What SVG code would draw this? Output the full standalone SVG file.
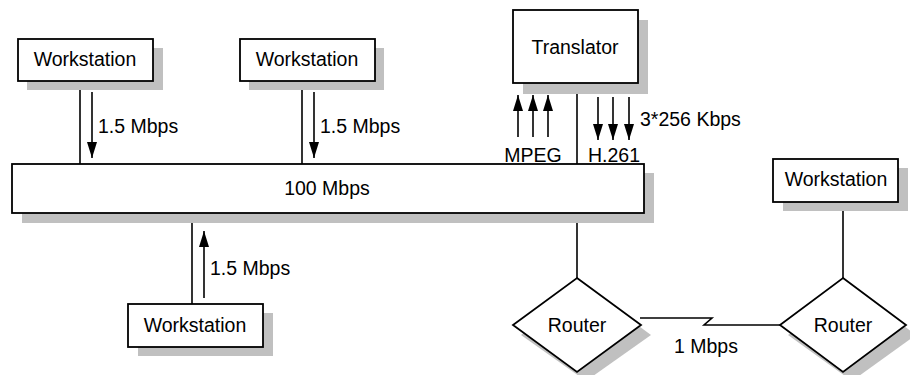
<svg xmlns="http://www.w3.org/2000/svg" width="910" height="375" viewBox="0 0 910 375">
<defs>
<style>
.box{fill:#fff;stroke:#000;stroke-width:1.8}
.sh{fill:#c0c0c0;stroke:none}
.ln{stroke:#000;stroke-width:1.6;fill:none}
.ar{stroke:#000;stroke-width:1.6;fill:none;marker-end:url(#ah)}
text{font-family:"Liberation Sans",Arial,sans-serif;font-size:19.5px;fill:#000}
.c{text-anchor:middle}
</style>
<marker id="ah" viewBox="0 0 16 10" refX="16" refY="5" markerWidth="16" markerHeight="10" markerUnits="userSpaceOnUse" orient="auto">
<path d="M0,0 L16,5 L0,10 z" fill="#000"/>
</marker>
</defs>
<rect width="910" height="375" fill="#fff"/>

<g id="connectors">
<line class="ln" x1="80" y1="80" x2="80" y2="164"/>
<line class="ar" x1="92" y1="92" x2="92" y2="158"/>
<line class="ln" x1="302" y1="80" x2="302" y2="164"/>
<line class="ar" x1="314" y1="92" x2="314" y2="158"/>
<line class="ln" x1="192" y1="213" x2="192" y2="304"/>
<line class="ar" x1="204" y1="298" x2="204" y2="231"/>
<line class="ln" x1="577" y1="83" x2="577" y2="164"/>
<line class="ar" x1="518" y1="137" x2="518" y2="95"/>
<line class="ar" x1="533" y1="137" x2="533" y2="95"/>
<line class="ar" x1="548" y1="137" x2="548" y2="95"/>
<line class="ar" x1="598" y1="97" x2="598" y2="140"/>
<line class="ar" x1="613" y1="97" x2="613" y2="140"/>
<line class="ar" x1="629" y1="97" x2="629" y2="140"/>
<line class="ln" x1="577" y1="213" x2="577" y2="278"/>
<line class="ln" x1="843" y1="203" x2="843" y2="278"/>
<polyline class="ln" points="640,318 712,318 704,325 780,325"/>
<text x="98" y="133">1.5 Mbps</text>
<text x="320" y="133">1.5 Mbps</text>
<text x="210" y="275">1.5 Mbps</text>
<text class="c" x="533" y="162">MPEG</text>
<text class="c" x="614" y="162">H.261</text>
<text x="640" y="126">3*256 Kbps</text>
<text class="c" x="706" y="353">1 Mbps</text>
</g>

<g id="ws1">
<rect class="sh" x="27" y="48" width="136" height="42"/>
<rect class="box" x="18" y="39" width="135" height="42"/>
<text class="c" x="85" y="66">Workstation</text>
</g>
<g id="ws2">
<rect class="sh" x="249" y="48" width="135" height="42"/>
<rect class="box" x="240" y="39" width="135" height="42"/>
<text class="c" x="307" y="66">Workstation</text>
</g>
<g id="translator">
<rect class="sh" x="523" y="20" width="125" height="74"/>
<rect class="box" x="513" y="10" width="125" height="73"/>
<text class="c" x="575" y="54">Translator</text>
</g>
<g id="bus">
<rect class="sh" x="22" y="173" width="632" height="50"/>
<rect class="box" x="12" y="164" width="632" height="49"/>
<text class="c" x="327" y="195">100 Mbps</text>
</g>
<g id="ws3">
<rect class="sh" x="138" y="313" width="135" height="43"/>
<rect class="box" x="128" y="304" width="135" height="43"/>
<text class="c" x="195" y="332">Workstation</text>
</g>
<g id="ws4">
<rect class="sh" x="783" y="168" width="125" height="43"/>
<rect class="box" x="773" y="159" width="125" height="43"/>
<text class="c" x="836" y="186">Workstation</text>
</g>
<g id="router1">
<polygon class="sh" points="586,287 651,335 586,381 521,335"/>
<polygon class="box" points="577,278 641,325 577,372 513,325"/>
<text class="c" x="577" y="332">Router</text>
</g>
<g id="router2">
<polygon class="sh" points="852,287 916,335 852,381 788,335"/>
<polygon class="box" points="843,278 906,325 843,372 780,325"/>
<text class="c" x="843" y="332">Router</text>
</g>
</svg>
